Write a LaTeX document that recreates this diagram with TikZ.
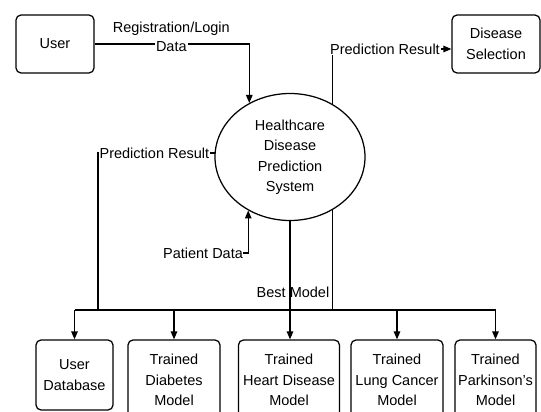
\documentclass[tikz,border=0pt]{standalone}
\usepackage{fontspec}
\setmainfont{Liberation Sans}
\usetikzlibrary{shapes.geometric,arrows.meta,calc}
\begin{document}
\begin{tikzpicture}[x=1pt,y=-1pt,
  every node/.style={font=\fontsize{14.5}{20.5}\selectfont, align=center, inner sep=0pt},
  box/.style={draw, rounded corners=5pt, line width=1.25pt},
  flow/.style={line width=1.25pt},
  arr/.style={flow, -{Triangle[length=8pt,width=6.5pt]}},
  lbl/.style={fill=white, inner xsep=1pt, inner ysep=1pt}]
\useasboundingbox[fill=white] (0,0) rectangle (541,412);

% nodes
\node[box, minimum width=78pt, minimum height=58pt] (user) at (55,44) {User};
\node[box, minimum width=88pt, minimum height=58pt] (ds) at (496,44) {Disease\\Selection};
\node[draw, ellipse, line width=1.25pt, minimum width=150pt, minimum height=127pt] (hds) at (290,157) {Healthcare\\Disease\\Prediction\\System};
\node[box, minimum width=77pt, minimum height=70pt] (udb) at (74.5,375) {User\\Database};
\node[box, minimum width=92pt, minimum height=80pt] (diab) at (174,380) {Trained\\Diabetes\\Model};
\node[box, minimum width=101pt, minimum height=80pt] (heart) at (289,380) {Trained\\Heart Disease\\Model};
\node[box, minimum width=92pt, minimum height=80pt] (lung) at (397,380) {Trained\\Lung Cancer\\Model};
\node[box, minimum width=81pt, minimum height=80pt] (park) at (495.5,380) {Trained\\Parkinson's\\Model};

\coordinate (bus) at (0,310);
\coordinate (prj) at (98,310);

% user -> system
\draw[arr] (user.east) -| node[lbl, pos=0.248, yshift=-3pt] (dlbl) {Data} (hds.127.6);
\node (reglbl) at ($(dlbl)+(0,-18)$) {Registration/Login};

% system -> disease selection
\draw[arr] (hds.51.4) |- node[lbl, pos=0.72] (prr) {Prediction Result} ($(ds.west)+(0,5)$);

% system -> left prediction result -> bus
\draw[flow] (hds.177) -| node[lbl, pos=0.258] (prl) {Prediction Result} (prj);

% patient data -> system
\node (pd) at (203,253) {Patient Data};
\draw[arr] (pd.east) -| (hds.232.4);

% best model
\draw[arr] (hds.south) -- (hds.south |- heart.north);
\node (bm) at (293,292) {Best Model};

% right vertical down to bus
\draw[flow] (hds.-51.4) -- (hds.-51.4 |- bus);

% bus
\draw[flow] (udb.north |- bus) -- (park.north |- bus);
\foreach \n in {udb,diab,lung,park}
  \draw[arr] (\n.north |- bus) -- (\n.north);
\end{tikzpicture}
\end{document}
